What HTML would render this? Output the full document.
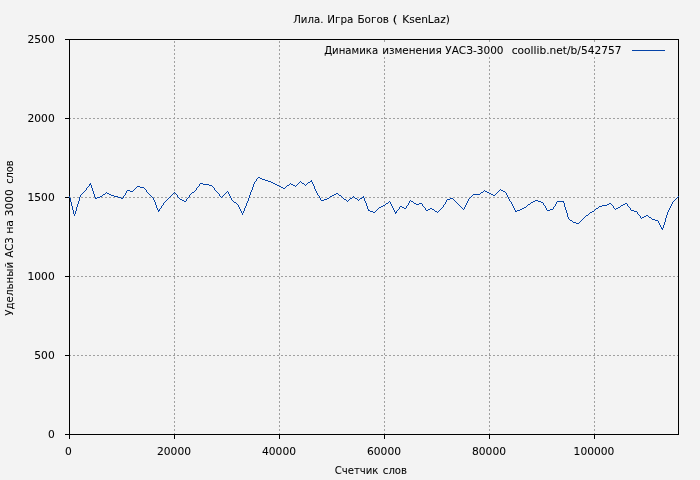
<!DOCTYPE html>
<html lang="ru">
<head>
<meta charset="utf-8">
<title>Лила. Игра Богов ( KsenLaz)</title>
<style>
html,body{margin:0;padding:0;background:#f3f3f3;}
body{width:700px;height:480px;overflow:hidden;}
svg{display:block;will-change:transform;}
text{font-family:"DejaVu Sans","Verdana","Liberation Sans",sans-serif;font-size:11px;fill:#000;stroke:#000;stroke-width:0.05px;}
</style>
</head>
<body>
<svg width="700" height="480" viewBox="0 0 700 480">
<rect x="0" y="0" width="700" height="480" fill="#f3f3f3"/>

<g stroke="#a0a0a0" stroke-width="1" stroke-dasharray="2 2" fill="none" shape-rendering="crispEdges">
<line x1="69" y1="355.5" x2="678" y2="355.5"/>
<line x1="69" y1="276.5" x2="678" y2="276.5"/>
<line x1="69" y1="197.5" x2="678" y2="197.5"/>
<line x1="69" y1="118.5" x2="678" y2="118.5"/>
<line x1="174.5" y1="435" x2="174.5" y2="40"/>
<line x1="279.5" y1="435" x2="279.5" y2="40"/>
<line x1="384.5" y1="435" x2="384.5" y2="40"/>
<line x1="489.5" y1="435" x2="489.5" y2="40"/>
<line x1="594.5" y1="435" x2="594.5" y2="40"/>
</g>
<rect x="320" y="42" width="350" height="15" fill="#f3f3f3"/>
<rect x="384" y="40" width="1" height="2" fill="#a0a0a0" shape-rendering="crispEdges"/>
<rect x="489" y="40" width="1" height="2" fill="#a0a0a0" shape-rendering="crispEdges"/>
<rect x="594" y="40" width="1" height="2" fill="#a0a0a0" shape-rendering="crispEdges"/>
<g stroke="#000" stroke-width="1" fill="none" shape-rendering="crispEdges">
<line x1="65" y1="434.5" x2="69" y2="434.5"/>
<line x1="65" y1="355.5" x2="69" y2="355.5"/>
<line x1="65" y1="276.5" x2="69" y2="276.5"/>
<line x1="65" y1="197.5" x2="69" y2="197.5"/>
<line x1="65" y1="118.5" x2="69" y2="118.5"/>
<line x1="65" y1="39.5" x2="69" y2="39.5"/>
<line x1="69.5" y1="435" x2="69.5" y2="439"/>
<line x1="174.5" y1="435" x2="174.5" y2="439"/>
<line x1="279.5" y1="435" x2="279.5" y2="439"/>
<line x1="384.5" y1="435" x2="384.5" y2="439"/>
<line x1="489.5" y1="435" x2="489.5" y2="439"/>
<line x1="594.5" y1="435" x2="594.5" y2="439"/>
<rect x="69.5" y="39.5" width="609" height="395"/>
</g>
<path d="M258 177h2v1h-2zM257 178h1v1h-1zM260 178h2v1h-2zM256 179h1v1h-1zM262 179h3v1h-3zM256 180h1v1h-1zM265 180h3v1h-3zM311 180h1v1h-1zM255 181h1v1h-1zM268 181h3v1h-3zM300 181h1v1h-1zM310 181h2v1h-2zM254 182h1v1h-1zM271 182h2v1h-2zM299 182h1v1h-1zM301 182h1v1h-1zM308 182h2v1h-2zM312 182h1v1h-1zM90 183h1v1h-1zM200 183h3v1h-3zM254 183h1v1h-1zM273 183h2v1h-2zM290 183h1v1h-1zM298 183h1v1h-1zM302 183h2v1h-2zM307 183h1v1h-1zM312 183h1v1h-1zM89 184h2v1h-2zM199 184h1v1h-1zM203 184h6v1h-6zM253 184h1v1h-1zM275 184h2v1h-2zM289 184h1v1h-1zM291 184h2v1h-2zM297 184h1v1h-1zM304 184h1v1h-1zM306 184h1v1h-1zM313 184h1v1h-1zM89 185h1v1h-1zM91 185h1v1h-1zM199 185h1v1h-1zM209 185h3v1h-3zM253 185h1v1h-1zM277 185h2v1h-2zM287 185h2v1h-2zM293 185h2v1h-2zM296 185h1v1h-1zM305 185h1v1h-1zM313 185h1v1h-1zM88 186h1v1h-1zM91 186h1v1h-1zM137 186h3v1h-3zM198 186h1v1h-1zM212 186h1v1h-1zM253 186h1v1h-1zM279 186h2v1h-2zM286 186h1v1h-1zM295 186h1v1h-1zM314 186h1v1h-1zM87 187h1v1h-1zM91 187h1v1h-1zM136 187h1v1h-1zM140 187h4v1h-4zM197 187h1v1h-1zM213 187h1v1h-1zM252 187h1v1h-1zM281 187h2v1h-2zM285 187h1v1h-1zM314 187h1v1h-1zM86 188h1v1h-1zM92 188h1v1h-1zM135 188h1v1h-1zM144 188h1v1h-1zM196 188h1v1h-1zM214 188h1v1h-1zM252 188h1v1h-1zM283 188h2v1h-2zM314 188h1v1h-1zM86 189h1v1h-1zM92 189h1v1h-1zM134 189h1v1h-1zM145 189h1v1h-1zM196 189h1v1h-1zM214 189h1v1h-1zM252 189h1v1h-1zM315 189h1v1h-1zM500 189h1v1h-1zM85 190h1v1h-1zM92 190h1v1h-1zM127 190h3v1h-3zM133 190h1v1h-1zM146 190h1v1h-1zM195 190h1v1h-1zM215 190h1v1h-1zM251 190h1v1h-1zM315 190h1v1h-1zM484 190h1v1h-1zM499 190h1v1h-1zM501 190h2v1h-2zM84 191h1v1h-1zM93 191h1v1h-1zM126 191h1v1h-1zM130 191h3v1h-3zM146 191h1v1h-1zM194 191h1v1h-1zM216 191h1v1h-1zM227 191h1v1h-1zM251 191h1v1h-1zM316 191h1v1h-1zM483 191h1v1h-1zM485 191h2v1h-2zM498 191h1v1h-1zM503 191h2v1h-2zM83 192h1v1h-1zM93 192h1v1h-1zM106 192h1v1h-1zM126 192h1v1h-1zM147 192h1v1h-1zM174 192h1v1h-1zM192 192h2v1h-2zM217 192h1v1h-1zM226 192h1v1h-1zM228 192h1v1h-1zM250 192h1v1h-1zM316 192h1v1h-1zM481 192h2v1h-2zM487 192h2v1h-2zM497 192h1v1h-1zM505 192h1v1h-1zM82 193h1v1h-1zM93 193h1v1h-1zM105 193h1v1h-1zM107 193h2v1h-2zM125 193h1v1h-1zM148 193h1v1h-1zM173 193h1v1h-1zM175 193h1v1h-1zM191 193h1v1h-1zM218 193h1v1h-1zM225 193h1v1h-1zM228 193h1v1h-1zM250 193h1v1h-1zM317 193h1v1h-1zM336 193h2v1h-2zM480 193h1v1h-1zM489 193h2v1h-2zM496 193h1v1h-1zM506 193h1v1h-1zM81 194h1v1h-1zM94 194h1v1h-1zM103 194h2v1h-2zM109 194h2v1h-2zM125 194h1v1h-1zM149 194h1v1h-1zM172 194h1v1h-1zM176 194h1v1h-1zM190 194h1v1h-1zM219 194h1v1h-1zM224 194h1v1h-1zM229 194h1v1h-1zM250 194h1v1h-1zM317 194h1v1h-1zM334 194h2v1h-2zM338 194h1v1h-1zM473 194h7v1h-7zM491 194h2v1h-2zM495 194h1v1h-1zM506 194h1v1h-1zM80 195h1v1h-1zM94 195h1v1h-1zM102 195h1v1h-1zM111 195h3v1h-3zM124 195h1v1h-1zM150 195h1v1h-1zM171 195h1v1h-1zM177 195h1v1h-1zM189 195h1v1h-1zM219 195h1v1h-1zM223 195h1v1h-1zM229 195h1v1h-1zM249 195h1v1h-1zM318 195h1v1h-1zM332 195h2v1h-2zM339 195h2v1h-2zM472 195h1v1h-1zM493 195h2v1h-2zM507 195h1v1h-1zM69 196h1v1h-1zM80 196h1v1h-1zM94 196h1v1h-1zM100 196h2v1h-2zM114 196h4v1h-4zM123 196h1v1h-1zM151 196h1v1h-1zM170 196h1v1h-1zM177 196h1v1h-1zM189 196h1v1h-1zM220 196h1v1h-1zM222 196h1v1h-1zM230 196h1v1h-1zM249 196h1v1h-1zM319 196h1v1h-1zM330 196h2v1h-2zM341 196h1v1h-1zM353 196h1v1h-1zM363 196h1v1h-1zM471 196h1v1h-1zM507 196h1v1h-1zM678 196h1v1h-1zM69 197h1v1h-1zM79 197h1v1h-1zM95 197h1v1h-1zM97 197h3v1h-3zM118 197h3v1h-3zM123 197h1v1h-1zM152 197h1v1h-1zM169 197h1v1h-1zM178 197h1v1h-1zM188 197h1v1h-1zM221 197h1v1h-1zM230 197h1v1h-1zM249 197h1v1h-1zM319 197h1v1h-1zM329 197h1v1h-1zM342 197h1v1h-1zM352 197h1v1h-1zM354 197h1v1h-1zM362 197h2v1h-2zM470 197h1v1h-1zM508 197h1v1h-1zM677 197h1v1h-1zM70 198h1v1h-1zM79 198h1v1h-1zM95 198h2v1h-2zM121 198h2v1h-2zM153 198h1v1h-1zM168 198h1v1h-1zM179 198h1v1h-1zM187 198h1v1h-1zM231 198h1v1h-1zM248 198h1v1h-1zM320 198h1v1h-1zM327 198h2v1h-2zM343 198h1v1h-1zM350 198h2v1h-2zM355 198h2v1h-2zM360 198h2v1h-2zM364 198h1v1h-1zM450 198h3v1h-3zM469 198h1v1h-1zM508 198h1v1h-1zM676 198h1v1h-1zM70 199h1v1h-1zM79 199h1v1h-1zM153 199h1v1h-1zM167 199h1v1h-1zM180 199h2v1h-2zM186 199h1v1h-1zM231 199h1v1h-1zM248 199h1v1h-1zM320 199h1v1h-1zM324 199h3v1h-3zM344 199h2v1h-2zM349 199h1v1h-1zM357 199h1v1h-1zM359 199h1v1h-1zM364 199h1v1h-1zM447 199h3v1h-3zM453 199h1v1h-1zM468 199h1v1h-1zM509 199h1v1h-1zM675 199h1v1h-1zM70 200h1v1h-1zM79 200h1v1h-1zM154 200h1v1h-1zM166 200h1v1h-1zM182 200h2v1h-2zM186 200h1v1h-1zM232 200h1v1h-1zM248 200h1v1h-1zM321 200h3v1h-3zM346 200h1v1h-1zM348 200h1v1h-1zM358 200h1v1h-1zM364 200h1v1h-1zM410 200h1v1h-1zM446 200h1v1h-1zM454 200h1v1h-1zM468 200h1v1h-1zM509 200h1v1h-1zM535 200h3v1h-3zM674 200h1v1h-1zM70 201h1v1h-1zM78 201h1v1h-1zM154 201h1v1h-1zM165 201h1v1h-1zM184 201h2v1h-2zM233 201h1v1h-1zM247 201h1v1h-1zM347 201h1v1h-1zM365 201h1v1h-1zM389 201h1v1h-1zM409 201h1v1h-1zM411 201h2v1h-2zM446 201h1v1h-1zM455 201h1v1h-1zM467 201h1v1h-1zM510 201h1v1h-1zM533 201h2v1h-2zM538 201h3v1h-3zM557 201h7v1h-7zM673 201h1v1h-1zM71 202h1v1h-1zM78 202h1v1h-1zM155 202h1v1h-1zM164 202h1v1h-1zM234 202h2v1h-2zM247 202h1v1h-1zM365 202h1v1h-1zM388 202h1v1h-1zM390 202h1v1h-1zM409 202h1v1h-1zM413 202h1v1h-1zM445 202h1v1h-1zM456 202h1v1h-1zM467 202h1v1h-1zM511 202h1v1h-1zM531 202h2v1h-2zM541 202h2v1h-2zM556 202h1v1h-1zM563 202h1v1h-1zM672 202h1v1h-1zM71 203h1v1h-1zM78 203h1v1h-1zM155 203h1v1h-1zM163 203h1v1h-1zM236 203h1v1h-1zM246 203h1v1h-1zM366 203h1v1h-1zM386 203h2v1h-2zM390 203h1v1h-1zM408 203h1v1h-1zM414 203h2v1h-2zM419 203h3v1h-3zM445 203h1v1h-1zM457 203h1v1h-1zM466 203h1v1h-1zM511 203h1v1h-1zM530 203h1v1h-1zM543 203h1v1h-1zM556 203h1v1h-1zM564 203h1v1h-1zM609 203h2v1h-2zM625 203h2v1h-2zM672 203h1v1h-1zM71 204h1v1h-1zM77 204h1v1h-1zM155 204h1v1h-1zM163 204h1v1h-1zM237 204h1v1h-1zM246 204h1v1h-1zM366 204h1v1h-1zM385 204h1v1h-1zM391 204h1v1h-1zM408 204h1v1h-1zM416 204h3v1h-3zM422 204h1v1h-1zM444 204h1v1h-1zM458 204h1v1h-1zM466 204h1v1h-1zM512 204h1v1h-1zM528 204h2v1h-2zM543 204h1v1h-1zM555 204h1v1h-1zM564 204h1v1h-1zM607 204h2v1h-2zM611 204h1v1h-1zM623 204h2v1h-2zM627 204h1v1h-1zM671 204h1v1h-1zM71 205h1v1h-1zM77 205h1v1h-1zM156 205h1v1h-1zM162 205h1v1h-1zM238 205h1v1h-1zM246 205h1v1h-1zM366 205h1v1h-1zM383 205h2v1h-2zM391 205h1v1h-1zM407 205h1v1h-1zM422 205h1v1h-1zM443 205h1v1h-1zM459 205h1v1h-1zM465 205h1v1h-1zM512 205h1v1h-1zM527 205h1v1h-1zM544 205h1v1h-1zM555 205h1v1h-1zM564 205h1v1h-1zM602 205h5v1h-5zM612 205h1v1h-1zM621 205h2v1h-2zM627 205h1v1h-1zM671 205h1v1h-1zM72 206h1v1h-1zM77 206h1v1h-1zM156 206h1v1h-1zM161 206h1v1h-1zM238 206h1v1h-1zM245 206h1v1h-1zM367 206h1v1h-1zM381 206h2v1h-2zM392 206h1v1h-1zM400 206h2v1h-2zM406 206h1v1h-1zM423 206h1v1h-1zM443 206h1v1h-1zM460 206h1v1h-1zM465 206h1v1h-1zM513 206h1v1h-1zM526 206h1v1h-1zM545 206h1v1h-1zM554 206h1v1h-1zM564 206h1v1h-1zM599 206h3v1h-3zM613 206h1v1h-1zM620 206h1v1h-1zM628 206h1v1h-1zM670 206h1v1h-1zM72 207h1v1h-1zM76 207h1v1h-1zM156 207h1v1h-1zM161 207h1v1h-1zM239 207h1v1h-1zM245 207h1v1h-1zM367 207h1v1h-1zM379 207h2v1h-2zM392 207h1v1h-1zM399 207h1v1h-1zM402 207h2v1h-2zM406 207h1v1h-1zM424 207h1v1h-1zM442 207h1v1h-1zM461 207h1v1h-1zM464 207h1v1h-1zM513 207h1v1h-1zM524 207h2v1h-2zM545 207h1v1h-1zM553 207h1v1h-1zM565 207h1v1h-1zM598 207h1v1h-1zM613 207h1v1h-1zM618 207h2v1h-2zM629 207h1v1h-1zM670 207h1v1h-1zM72 208h1v1h-1zM76 208h1v1h-1zM157 208h1v1h-1zM160 208h1v1h-1zM239 208h1v1h-1zM244 208h1v1h-1zM367 208h1v1h-1zM378 208h1v1h-1zM393 208h1v1h-1zM399 208h1v1h-1zM404 208h2v1h-2zM425 208h1v1h-1zM430 208h2v1h-2zM441 208h1v1h-1zM462 208h1v1h-1zM464 208h1v1h-1zM514 208h1v1h-1zM522 208h2v1h-2zM546 208h1v1h-1zM553 208h1v1h-1zM565 208h1v1h-1zM596 208h2v1h-2zM614 208h1v1h-1zM616 208h2v1h-2zM630 208h1v1h-1zM669 208h1v1h-1zM72 209h1v1h-1zM76 209h1v1h-1zM157 209h1v1h-1zM159 209h1v1h-1zM240 209h1v1h-1zM244 209h1v1h-1zM368 209h1v1h-1zM377 209h1v1h-1zM393 209h1v1h-1zM398 209h1v1h-1zM425 209h1v1h-1zM428 209h2v1h-2zM432 209h2v1h-2zM440 209h1v1h-1zM463 209h1v1h-1zM514 209h1v1h-1zM520 209h2v1h-2zM546 209h1v1h-1zM550 209h3v1h-3zM565 209h1v1h-1zM595 209h1v1h-1zM615 209h1v1h-1zM630 209h1v1h-1zM669 209h1v1h-1zM73 210h1v1h-1zM76 210h1v1h-1zM158 210h2v1h-2zM240 210h1v1h-1zM244 210h1v1h-1zM368 210h2v1h-2zM376 210h1v1h-1zM394 210h1v1h-1zM397 210h1v1h-1zM426 210h2v1h-2zM434 210h1v1h-1zM439 210h1v1h-1zM515 210h1v1h-1zM517 210h3v1h-3zM547 210h3v1h-3zM566 210h1v1h-1zM594 210h1v1h-1zM631 210h3v1h-3zM668 210h1v1h-1zM73 211h1v1h-1zM75 211h1v1h-1zM158 211h1v1h-1zM241 211h1v1h-1zM243 211h1v1h-1zM370 211h3v1h-3zM375 211h1v1h-1zM394 211h1v1h-1zM396 211h1v1h-1zM435 211h2v1h-2zM438 211h1v1h-1zM515 211h2v1h-2zM566 211h1v1h-1zM592 211h2v1h-2zM634 211h3v1h-3zM668 211h1v1h-1zM73 212h1v1h-1zM75 212h1v1h-1zM241 212h1v1h-1zM243 212h1v1h-1zM373 212h2v1h-2zM395 212h2v1h-2zM437 212h1v1h-1zM566 212h1v1h-1zM590 212h2v1h-2zM637 212h1v1h-1zM667 212h1v1h-1zM73 213h1v1h-1zM75 213h1v1h-1zM242 213h1v1h-1zM395 213h1v1h-1zM567 213h1v1h-1zM589 213h1v1h-1zM637 213h1v1h-1zM667 213h1v1h-1zM74 214h1v1h-1zM242 214h1v1h-1zM567 214h1v1h-1zM588 214h1v1h-1zM638 214h1v1h-1zM667 214h1v1h-1zM74 215h1v1h-1zM567 215h1v1h-1zM586 215h2v1h-2zM639 215h1v1h-1zM646 215h2v1h-2zM666 215h1v1h-1zM567 216h1v1h-1zM585 216h1v1h-1zM640 216h1v1h-1zM644 216h2v1h-2zM648 216h1v1h-1zM666 216h1v1h-1zM568 217h1v1h-1zM584 217h1v1h-1zM640 217h1v1h-1zM642 217h2v1h-2zM649 217h2v1h-2zM666 217h1v1h-1zM568 218h1v1h-1zM583 218h1v1h-1zM641 218h1v1h-1zM651 218h1v1h-1zM665 218h1v1h-1zM569 219h1v1h-1zM582 219h1v1h-1zM652 219h3v1h-3zM665 219h1v1h-1zM570 220h2v1h-2zM581 220h1v1h-1zM655 220h3v1h-3zM665 220h1v1h-1zM572 221h1v1h-1zM580 221h1v1h-1zM658 221h1v1h-1zM665 221h1v1h-1zM573 222h3v1h-3zM579 222h1v1h-1zM658 222h1v1h-1zM664 222h1v1h-1zM576 223h3v1h-3zM659 223h1v1h-1zM664 223h1v1h-1zM659 224h1v1h-1zM664 224h1v1h-1zM660 225h1v1h-1zM663 225h1v1h-1zM660 226h1v1h-1zM663 226h1v1h-1zM661 227h1v1h-1zM663 227h1v1h-1zM661 228h2v1h-2zM662 229h1v1h-1z" fill="#0443a8" stroke="none" shape-rendering="crispEdges"/>
<line x1="632" y1="50.5" x2="665" y2="50.5" stroke="#0443a8" stroke-width="1" shape-rendering="crispEdges"/>
<text x="54.7" y="438" text-anchor="end" textLength="6.8" lengthAdjust="spacingAndGlyphs">0</text>
<text x="54.7" y="359" text-anchor="end" textLength="20.4" lengthAdjust="spacingAndGlyphs">500</text>
<text x="54.7" y="280" text-anchor="end" textLength="27.2" lengthAdjust="spacingAndGlyphs">1000</text>
<text x="54.7" y="201" text-anchor="end" textLength="27.2" lengthAdjust="spacingAndGlyphs">1500</text>
<text x="54.7" y="122" text-anchor="end" textLength="27.2" lengthAdjust="spacingAndGlyphs">2000</text>
<text x="54.7" y="43" text-anchor="end" textLength="27.2" lengthAdjust="spacingAndGlyphs">2500</text>
<text x="68.5" y="455" text-anchor="middle" textLength="6.8" lengthAdjust="spacingAndGlyphs">0</text>
<text x="174" y="455" text-anchor="middle" textLength="34.0" lengthAdjust="spacingAndGlyphs">20000</text>
<text x="279" y="455" text-anchor="middle" textLength="34.0" lengthAdjust="spacingAndGlyphs">40000</text>
<text x="384" y="455" text-anchor="middle" textLength="34.0" lengthAdjust="spacingAndGlyphs">60000</text>
<text x="489" y="455" text-anchor="middle" textLength="34.0" lengthAdjust="spacingAndGlyphs">80000</text>
<text x="594" y="455" text-anchor="middle" textLength="40.8" lengthAdjust="spacingAndGlyphs">100000</text>
<g>
<text x="293.15" y="23" textLength="30.25" lengthAdjust="spacingAndGlyphs">Лила.</text>
<text x="327.21" y="23" textLength="26.13" lengthAdjust="spacingAndGlyphs">Игра</text>
<text x="357.40" y="23" textLength="31.62" lengthAdjust="spacingAndGlyphs">Богов</text>
<text x="392.56" y="23" textLength="5.13" lengthAdjust="spacingAndGlyphs">(</text>
<text x="402.19" y="23" textLength="47.76" lengthAdjust="spacingAndGlyphs">KsenLaz)</text>
</g>
<g>
<text x="324.15" y="54" textLength="53.98" lengthAdjust="spacingAndGlyphs">Динамика</text>
<text x="382.20" y="54" textLength="59.57" lengthAdjust="spacingAndGlyphs">изменения</text>
<text x="445.25" y="54" textLength="58.30" lengthAdjust="spacingAndGlyphs">УАСЗ-3000</text>
<text x="511.75" y="54" textLength="109.77" lengthAdjust="spacingAndGlyphs">coollib.net/b/542757</text>
</g>
<g>
<text x="334.65" y="474" textLength="43.81" lengthAdjust="spacingAndGlyphs">Счетчик</text>
<text x="382.85" y="474" textLength="24.18" lengthAdjust="spacingAndGlyphs">слов</text>
</g>
<g>
<text transform="translate(13,315.75) rotate(-90)" x="0" y="0" textLength="53.83" lengthAdjust="spacingAndGlyphs">Удельный</text>
<text transform="translate(13,257.50) rotate(-90)" x="0" y="0" textLength="20.25" lengthAdjust="spacingAndGlyphs">АСЗ</text>
<text transform="translate(13,233.85) rotate(-90)" x="0" y="0" textLength="13.94" lengthAdjust="spacingAndGlyphs">на</text>
<text transform="translate(13,216.32) rotate(-90)" x="0" y="0" textLength="27.03" lengthAdjust="spacingAndGlyphs">3000</text>
<text transform="translate(13,183.75) rotate(-90)" x="0" y="0" textLength="23.16" lengthAdjust="spacingAndGlyphs">слов</text>
</g>
</svg>
</body>
</html>
